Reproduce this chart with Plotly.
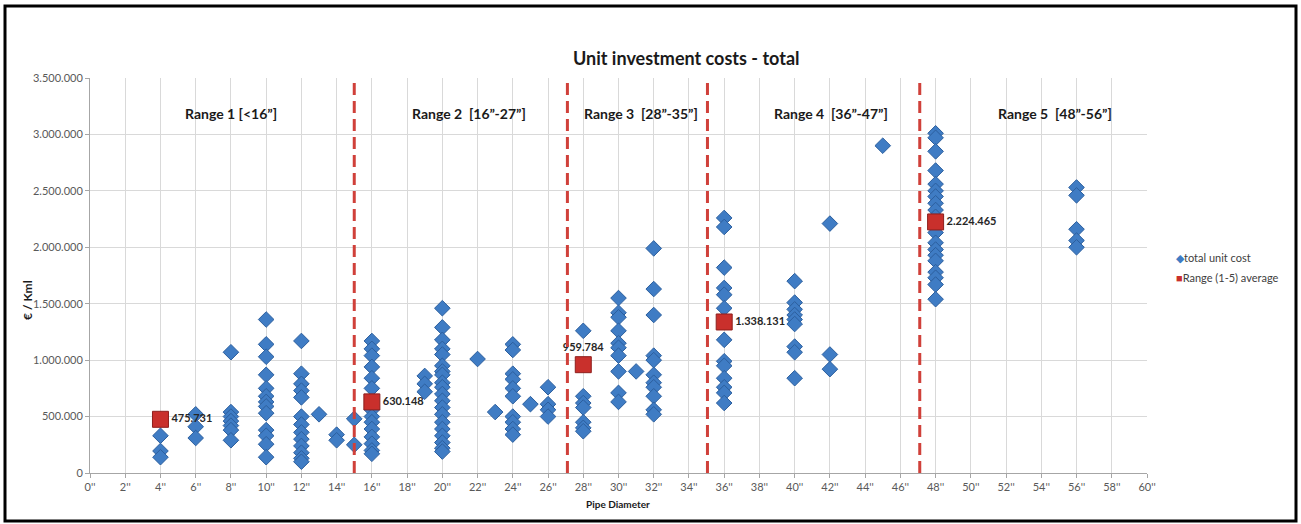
import plotly.graph_objects as go

# ---------------- data ----------------
pipe_diameter = (
    [4]*3 + [6]*3 + [8]*7 + [10]*13 + [12]*13 + [13] + [14]*2 + [15]*2 + [16]*14 +
    [19]*3 + [20]*20 + [22] + [23] + [24]*10 + [25] + [26]*4 + [28]*7 + [30]*10 +
    [31] + [32]*11 + [36]*13 + [40]*9 + [42]*3 + [45] + [48]*19 + [56]*5
)
total_unit_cost = [
    330000, 195000, 140000,                                   # 4"
    520000, 410000, 310000,                                   # 6"
    1070000, 540000, 500000, 460000, 420000, 380000, 290000,  # 8"
    1360000, 1140000, 1030000, 870000, 750000, 680000, 630000, 590000, 530000,
    380000, 330000, 255000, 140000,                           # 10"
    1170000, 880000, 790000, 730000, 670000, 500000, 430000, 360000, 300000,
    240000, 180000, 130000, 100000,                           # 12"
    520000,                                                   # 13"
    340000, 290000,                                           # 14"
    480000, 250000,                                           # 15"
    1170000, 1100000, 1040000, 940000, 840000, 750000, 560000, 500000, 450000,
    390000, 320000, 260000, 200000, 170000,                   # 16"
    860000, 790000, 720000,                                   # 19"
    1460000, 1290000, 1180000, 1100000, 1050000, 950000, 900000, 870000, 800000,
    760000, 700000, 640000, 580000, 520000, 450000, 390000, 330000, 270000,
    220000, 190000,                                           # 20"
    1010000,                                                  # 22"
    540000,                                                   # 23"
    1140000, 1090000, 880000, 830000, 750000, 680000, 500000, 450000, 390000,
    340000,                                                   # 24"
    610000,                                                   # 25"
    760000, 610000, 560000, 500000,                           # 26"
    1260000, 680000, 620000, 580000, 450000, 400000, 370000,  # 28"
    1550000, 1420000, 1380000, 1260000, 1150000, 1110000, 1040000, 900000,
    710000, 630000,                                           # 30"
    900000,                                                   # 31"
    1990000, 1630000, 1400000, 1040000, 1000000, 870000, 800000, 760000,
    680000, 560000, 520000,                                   # 32"
    2260000, 2180000, 1820000, 1640000, 1580000, 1460000, 1180000, 990000,
    950000, 840000, 760000, 710000, 620000,                   # 36"
    1700000, 1510000, 1450000, 1400000, 1360000, 1320000, 1120000, 1070000,
    840000,                                                   # 40"
    2210000, 1050000, 920000,                                 # 42"
    2900000,                                                  # 45"
    3010000, 2970000, 2850000, 2680000, 2560000, 2500000, 2450000, 2390000,
    2330000, 2270000, 2130000, 2040000, 1980000, 1930000, 1880000, 1780000,
    1730000, 1670000, 1540000,                                # 48"
    2530000, 2460000, 2160000, 2060000, 2000000,              # 56"
]

avg_diameter = [4, 16, 28, 36, 48]
avg_cost = [475731, 630148, 959784, 1338131, 2224465]
avg_text_pos = ["middle right", "middle right", "top center", "middle right", "middle right"]

range_labels = ["Range 1 [<16”]", "Range 2\u00a0 [16”-27”]", "Range 3\u00a0 [28”-35”]",
                "Range 4\u00a0 [36”-47”]", "Range 5\u00a0 [48”-56”]"]
range_label_x = [7.98, 21.5, 31.3, 42.05, 54.8]
range_boundaries = [15, 27.1, 35.05, 47.1]

series_names = ["total unit cost", "Range (1-5) average"]
series_colors = ["#3f7cc4", "#c9302c"]
series_symbols = ["◆", "■"]

x_tick_vals = list(range(0, 61, 2))
x_tick_text = [f"{v}''" for v in x_tick_vals]
y_tick_vals = [0, 500000, 1000000, 1500000, 2000000, 2500000, 3000000, 3500000]

FONT = "Lato, 'Open Sans', sans-serif"

# plot-area geometry (pixels) used to convert layout positions into paper coords
L, R, T, B, W, H = 90, 1147, 78, 473, 1301, 524


def px_x(p):
    return (p - L) / (R - L)


def px_y(p):
    return (B - p) / (B - T)


def fmt(v):
    return f"{v:,}".replace(",", ".")


# ---------------- figure ----------------
fig = go.Figure()

fig.add_trace(go.Scatter(
    x=pipe_diameter, y=total_unit_cost, mode="markers", name=series_names[0],
    marker=dict(symbol="diamond", size=12, color=series_colors[0],
                line=dict(color="#2c5f9e", width=1)),
))

fig.add_trace(go.Scatter(
    x=avg_diameter, y=avg_cost, mode="markers+text", name=series_names[1],
    marker=dict(symbol="square", size=16, color=series_colors[1],
                line=dict(color="#8e1f1c", width=1)),
    text=[fmt(v) for v in avg_cost], textposition=avg_text_pos,
    textfont=dict(family=FONT, size=11, color="#262626", weight="bold"),
))

for xb in range_boundaries:
    fig.add_shape(type="line", xref="x", yref="y", x0=xb, x1=xb, y0=0, y1=3530000,
                  line=dict(color="#d0403a", width=3, dash="12px,6px"), layer="above")

for lab, lx in zip(range_labels, range_label_x):
    fig.add_annotation(x=lx, y=3184000, xref="x", yref="y", text=lab, showarrow=False,
                       yanchor="middle",
                       font=dict(family=FONT, size=14, color="#1a1a1a", weight="bold"))

# title
fig.add_annotation(x=px_x(686), y=px_y(58), xref="paper", yref="paper",
                   text="Unit investment costs - total", showarrow=False,
                   xanchor="center", yanchor="middle",
                   font=dict(family=FONT, size=18, color="#1a1a1a", weight="bold"))
# y axis title
fig.add_annotation(x=px_x(27), y=px_y(300), xref="paper", yref="paper",
                   text="€ / Kml", textangle=-90, showarrow=False,
                   xanchor="center", yanchor="middle",
                   font=dict(family=FONT, size=12, color="#1a1a1a", weight="bold"))
# x axis title
fig.add_annotation(x=px_x(618), y=px_y(504), xref="paper", yref="paper",
                   text="Pipe Diameter", showarrow=False,
                   xanchor="center", yanchor="middle",
                   font=dict(family=FONT, size=10, color="#1a1a1a", weight="bold"))

# legend (drawn as text items)
for i, (nm, col, sym) in enumerate(zip(series_names, series_colors, series_symbols)):
    fig.add_annotation(x=px_x(1174), y=px_y(257 + 20 * i), xref="paper", yref="paper",
                       text=f"<span style='color:{col}'>{sym}</span>{nm}",
                       showarrow=False, xanchor="left", yanchor="middle",
                       font=dict(family=FONT, size=11, color="#404040"))

# black frame
fig.add_shape(type="rect", xref="paper", yref="paper",
              x0=px_x(5), x1=px_x(1296), y0=px_y(521), y1=px_y(6),
              line=dict(color="black", width=3))

fig.update_layout(
    width=W, height=H,
    margin=dict(l=L, r=W - R, t=T, b=H - B),
    paper_bgcolor="white", plot_bgcolor="white",
    separators=",.",
    font=dict(family=FONT, size=11, color="#595959"),
    showlegend=False,
    xaxis=dict(range=[0, 60], tickvals=x_tick_vals, ticktext=x_tick_text,
               showgrid=True, gridcolor="#d9d9d9", gridwidth=1,
               showline=True, linecolor="#a6a6a6", linewidth=1,
               ticks="outside", ticklen=4, tickcolor="#a6a6a6",
               zeroline=False, tickfont=dict(size=11, color="#595959")),
    yaxis=dict(range=[0, 3500000], tickvals=y_tick_vals, tickformat=",d",
               showgrid=True, gridcolor="#d9d9d9", gridwidth=1,
               showline=True, linecolor="#a6a6a6", linewidth=1,
               ticks="outside", ticklen=4, tickcolor="#a6a6a6",
               zeroline=False, tickfont=dict(size=11, color="#595959")),
)

fig.write_html(
    "out.html",
    config={"displayModeBar": False},
    post_script="document.body.style.margin='0';document.body.style.overflow='hidden';",
)
